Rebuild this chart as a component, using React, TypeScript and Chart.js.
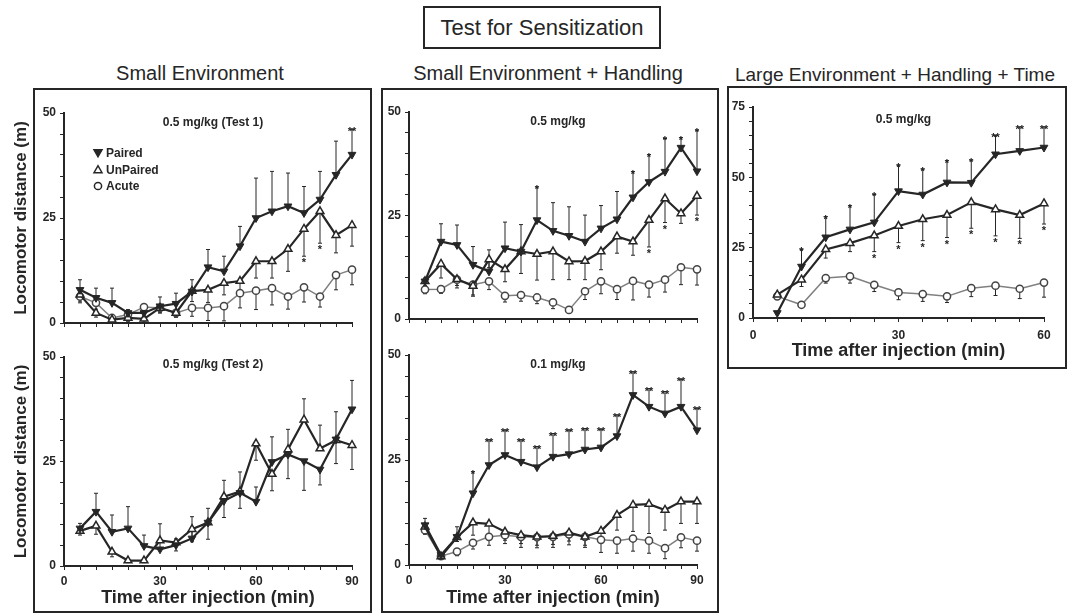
import React, { useEffect, useRef } from 'react';
import { Chart, registerables } from 'chart.js';

Chart.register(...registerables);

const INK = '#262626';
const ACUTE_LINE = '#808080';
const FONT = '"Liberation Sans", Arial, Helvetica, sans-serif';

// ---------- data ----------
const TIMES_90 = [5, 10, 15, 20, 25, 30, 35, 40, 45, 50, 55, 60, 65, 70, 75, 80, 85, 90];
const TIMES_60 = [5, 10, 15, 20, 25, 30, 35, 40, 45, 50, 55, 60];

const LEGEND_LABELS = ['Paired', 'UnPaired', 'Acute'];
const GROUP_TITLES = ['Small Environment', 'Small Environment + Handling', 'Large Environment + Handling + Time'];
const MAIN_TITLE = 'Test for Sensitization';
const X_TITLE = 'Time after injection (min)';
const Y_TITLE = 'Locomotor distance (m)';

// Small Environment, 0.5 mg/kg (Test 1)
const P1_PAIRED = [7.9, 6.0, 4.8, 2.4, 2.4, 4.0, 4.6, 7.5, 13.3, 12.3, 18.3, 25.0, 26.6, 27.8, 26.2, 29.4, 35.3, 40.1];
const P1_PAIRED_ERR = [2.4, 2.3, 3.5, 0.8, 0.8, 2.2, 2.5, 2.8, 4.2, 3.6, 4.7, 9.5, 9.5, 7.9, 6.3, 6.7, 8.0, 6.0];
const P1_PAIRED_SIG = ['', '', '', '', '', '', '', '', '', '', '', '', '', '', '', '', '', '**'];
const P1_UNPAIRED = [6.7, 2.4, 0.8, 1.2, 1.0, 3.6, 2.4, 7.6, 7.9, 9.5, 10.0, 14.7, 14.7, 17.6, 22.4, 26.6, 20.9, 23.3];
const P1_UNPAIRED_ERR = [-1.5, -1.0, -0.6, -0.8, -0.8, -1.2, -1.0, -2.5, -3.0, -2.8, -2.8, -4.0, -4.0, -5.3, -6.5, -7.6, -4.2, -5.0];
const P1_UNPAIRED_SIG = ['', '', '', '', '', '', '', '', '', '', '', '', '', '', '*', '*', '', ''];
const P1_ACUTE = [6.3, 4.8, 1.2, 2.0, 3.8, 3.6, 2.4, 3.6, 3.6, 4.0, 7.1, 7.7, 8.3, 6.3, 8.5, 6.3, 11.4, 12.7];
const P1_ACUTE_ERR = [-1.5, -1.5, -0.5, -0.8, -1.0, -1.2, -1.0, -2.0, -3.0, -3.5, -3.5, -4.5, -4.0, -3.0, -3.5, -2.5, -3.5, -3.6];

// Small Environment, 0.5 mg/kg (Test 2)
const P2_PAIRED = [9.0, 13.0, 8.2, 9.0, 4.8, 4.0, 5.0, 6.6, 10.4, 15.6, 17.5, 15.4, 24.9, 26.7, 25.1, 23.1, 30.3, 37.5];
const P2_PAIRED_ERR = [1.2, 4.4, 4.0, 5.2, 2.6, 2.0, 1.5, 5.2, 3.4, 4.9, 5.0, 3.5, 6.0, 6.0, -7.0, -3.7, 6.6, 6.9];
const P2_UNPAIRED = [8.4, 9.6, 3.4, 1.3, 1.3, 6.1, 5.6, 8.8, 10.4, 16.6, 17.8, 29.3, 22.0, 27.9, 35.0, 28.1, 30.1, 28.9];
const P2_UNPAIRED_ERR = [-1.0, -2.0, -1.2, -0.5, -0.5, 4.0, -2.0, -3.0, -4.0, -5.0, -4.0, -4.0, -4.0, -7.0, 5.0, 5.6, -5.6, -5.8];

// Small Environment + Handling, 0.5 mg/kg
const P3_PAIRED = [9.1, 18.7, 17.9, 13.1, 11.5, 17.1, 16.3, 23.9, 21.3, 20.1, 18.7, 21.9, 24.1, 29.4, 33.1, 35.6, 41.4, 35.7];
const P3_PAIRED_ERR = [0.8, 4.3, 4.8, 4.4, 5.2, 6.3, 6.5, 8.0, 6.8, 7.0, 6.4, 5.5, 6.7, 6.2, 6.6, 8.0, 2.4, 9.9];
const P3_PAIRED_SIG = ['', '', '', '', '', '', '', '*', '', '', '', '', '', '*', '*', '*', '*', '*'];
const P3_UNPAIRED = [9.1, 13.3, 9.6, 8.0, 14.4, 12.0, 16.3, 15.7, 16.3, 13.9, 14.0, 16.3, 19.9, 18.7, 23.9, 29.1, 25.5, 29.7];
const P3_UNPAIRED_ERR = [-1.0, -3.4, -1.5, -2.5, -2.0, -3.0, -5.3, -6.3, -6.8, -4.4, -4.5, -4.4, -4.0, -3.3, -6.5, -5.8, -2.4, -4.6];
const P3_UNPAIRED_SIG = ['', '', '', '', '', '', '', '', '', '', '', '', '', '', '*', '*', '', '*'];
const P3_ACUTE = [7.1, 7.2, 9.5, 8.3, 9.1, 5.6, 5.8, 5.2, 4.0, 2.2, 6.7, 9.1, 7.2, 9.2, 8.3, 9.5, 12.5, 12.0];
const P3_ACUTE_ERR = [-1.0, -1.0, -2.0, -2.5, -2.0, -1.5, -1.5, -1.5, -1.5, -0.8, -2.0, -3.0, -2.5, -4.6, -3.0, -3.0, -4.2, -3.8];

// Small Environment + Handling, 0.1 mg/kg
const P4_PAIRED = [9.5, 2.4, 6.7, 17.1, 23.8, 26.2, 24.6, 23.3, 25.8, 26.4, 27.5, 28.0, 30.7, 40.5, 37.7, 36.1, 37.7, 32.1];
const P4_PAIRED_ERR = [1.6, 0.5, 2.4, 5.1, 6.0, 5.9, 5.2, 4.9, 5.5, 5.7, 5.0, 4.3, 5.0, 5.5, 4.3, 5.2, 6.5, 5.2];
const P4_PAIRED_SIG = ['', '', '', '*', '**', '**', '**', '**', '**', '**', '**', '**', '**', '**', '**', '**', '**', '**'];
const P4_UNPAIRED = [9.1, 2.0, 6.6, 10.1, 9.8, 7.9, 7.1, 6.7, 6.9, 7.7, 6.7, 8.1, 11.9, 14.3, 14.5, 13.1, 15.1, 15.1];
const P4_UNPAIRED_ERR = [-1.5, -0.5, -1.0, -3.0, -3.0, -2.0, -2.0, -2.0, -2.0, -2.0, -2.0, -2.5, -3.6, -6.3, -7.0, -4.8, -5.2, -5.2];
const P4_ACUTE = [8.3, 2.1, 3.2, 5.3, 6.7, 7.1, 6.7, 6.6, 6.7, 7.3, 6.7, 6.0, 5.8, 6.3, 5.8, 4.0, 6.6, 5.8];
const P4_ACUTE_ERR = [-1.0, -0.5, -1.0, -1.5, -2.0, -2.0, -2.5, -2.5, -2.5, -2.5, -2.5, -3.0, -3.0, -3.0, -3.0, -2.5, -2.5, -2.5];

// Large Environment + Handling + Time, 0.5 mg/kg
const P5_PAIRED = [1.8, 18.3, 28.7, 31.5, 34.0, 45.1, 43.9, 48.2, 48.1, 58.2, 59.4, 60.6];
const P5_PAIRED_ERR = [0.5, 6.1, 7.3, 8.4, 9.9, 9.2, 9.0, 7.7, 8.0, 6.7, 8.5, 7.3];
const P5_PAIRED_SIG = ['', '*', '*', '*', '*', '*', '*', '*', '*', '**', '**', '**'];
const P5_UNPAIRED = [8.3, 13.6, 24.4, 26.6, 29.3, 32.7, 35.1, 36.6, 41.1, 38.6, 36.6, 40.7];
const P5_UNPAIRED_ERR = [-1.0, -2.4, -3.1, -3.0, -5.7, -5.9, -7.6, -8.0, -9.2, -9.4, -8.3, -7.3];
const P5_UNPAIRED_SIG = ['', '', '', '', '*', '*', '*', '*', '*', '*', '*', '*'];
const P5_ACUTE = [7.7, 4.7, 14.2, 14.8, 11.8, 9.1, 8.5, 7.7, 10.6, 11.5, 10.4, 12.6];
const P5_ACUTE_ERR = [-1.0, -0.5, -1.8, -2.4, -2.4, -2.6, -2.6, -2.2, -3.0, -3.5, -3.5, -5.2];

// ---------- types ----------
type Kind = 'paired' | 'unpaired' | 'acute';
type Series = { kind: Kind; values: number[]; err: number[]; sig?: string[] };
type Box = { l: number; t: number; r: number; b: number };
type PanelSpec = {
  times: number[];
  xMax: number;
  yMax: number;
  subtitle: string;
  subDy: number;
  series: Series[];
  canvas: Box;
  area: Box;
  showX: boolean;
  showYTitle: boolean;
  legend: boolean;
  xTickPad: number;
  xTitlePad: number;
};

const PANELS: PanelSpec[] = [
  {
    times: TIMES_90, xMax: 90, yMax: 50, subtitle: '0.5 mg/kg (Test 1)', subDy: 10,
    series: [
      { kind: 'paired', values: P1_PAIRED, err: P1_PAIRED_ERR, sig: P1_PAIRED_SIG },
      { kind: 'unpaired', values: P1_UNPAIRED, err: P1_UNPAIRED_ERR, sig: P1_UNPAIRED_SIG },
      { kind: 'acute', values: P1_ACUTE, err: P1_ACUTE_ERR },
    ],
    canvas: { l: 0, t: 95, r: 370, b: 335 }, area: { l: 64, t: 113, r: 352, b: 323 },
    showX: false, showYTitle: true, legend: true, xTickPad: 4, xTitlePad: 4,
  },
  {
    times: TIMES_90, xMax: 90, yMax: 50, subtitle: '0.5 mg/kg (Test 2)', subDy: 8,
    series: [
      { kind: 'paired', values: P2_PAIRED, err: P2_PAIRED_ERR },
      { kind: 'unpaired', values: P2_UNPAIRED, err: P2_UNPAIRED_ERR },
    ],
    canvas: { l: 0, t: 340, r: 370, b: 612 }, area: { l: 64, t: 357, r: 352, b: 566 },
    showX: true, showYTitle: true, legend: false, xTickPad: 4, xTitlePad: 3,
  },
  {
    times: TIMES_90, xMax: 90, yMax: 50, subtitle: '0.5 mg/kg', subDy: 10,
    series: [
      { kind: 'paired', values: P3_PAIRED, err: P3_PAIRED_ERR, sig: P3_PAIRED_SIG },
      { kind: 'unpaired', values: P3_UNPAIRED, err: P3_UNPAIRED_ERR, sig: P3_UNPAIRED_SIG },
      { kind: 'acute', values: P3_ACUTE, err: P3_ACUTE_ERR },
    ],
    canvas: { l: 383, t: 95, r: 716, b: 335 }, area: { l: 409, t: 112, r: 697, b: 319 },
    showX: false, showYTitle: false, legend: false, xTickPad: 4, xTitlePad: 4,
  },
  {
    times: TIMES_90, xMax: 90, yMax: 50, subtitle: '0.1 mg/kg', subDy: 10,
    series: [
      { kind: 'paired', values: P4_PAIRED, err: P4_PAIRED_ERR, sig: P4_PAIRED_SIG },
      { kind: 'unpaired', values: P4_UNPAIRED, err: P4_UNPAIRED_ERR },
      { kind: 'acute', values: P4_ACUTE, err: P4_ACUTE_ERR },
    ],
    canvas: { l: 383, t: 340, r: 716, b: 612 }, area: { l: 409, t: 355, r: 697, b: 565 },
    showX: true, showYTitle: false, legend: false, xTickPad: 4, xTitlePad: 3,
  },
  {
    times: TIMES_60, xMax: 60, yMax: 75, subtitle: '0.5 mg/kg', subDy: 13,
    series: [
      { kind: 'paired', values: P5_PAIRED, err: P5_PAIRED_ERR, sig: P5_PAIRED_SIG },
      { kind: 'unpaired', values: P5_UNPAIRED, err: P5_UNPAIRED_ERR, sig: P5_UNPAIRED_SIG },
      { kind: 'acute', values: P5_ACUTE, err: P5_ACUTE_ERR },
    ],
    canvas: { l: 729, t: 92, r: 1063, b: 364 }, area: { l: 753, t: 107, r: 1044, b: 318 },
    showX: true, showYTitle: false, legend: false, xTickPad: 6, xTitlePad: 2,
  },
];

// ---------- drawing helpers ----------
function drawMarker(ctx: CanvasRenderingContext2D, kind: Kind, x: number, y: number) {
  ctx.save();
  ctx.lineWidth = 1.5;
  ctx.strokeStyle = INK;
  ctx.beginPath();
  if (kind === 'paired') {
    ctx.moveTo(x - 4, y - 3.2);
    ctx.lineTo(x + 4, y - 3.2);
    ctx.lineTo(x, y + 3.8);
    ctx.closePath();
    ctx.fillStyle = INK;
    ctx.fill();
    ctx.stroke();
  } else if (kind === 'unpaired') {
    ctx.moveTo(x - 4, y + 3.2);
    ctx.lineTo(x + 4, y + 3.2);
    ctx.lineTo(x, y - 3.8);
    ctx.closePath();
    ctx.fillStyle = '#fff';
    ctx.fill();
    ctx.stroke();
  } else {
    ctx.arc(x, y, 3.6, 0, Math.PI * 2);
    ctx.fillStyle = '#fff';
    ctx.fill();
    ctx.stroke();
  }
  ctx.restore();
}

function makeDataset(times: number[], s: Series) {
  const base: any = {
    data: times.map((t, i) => ({ x: t, y: s.values[i] })),
    err: s.err,
    sig: s.sig || [],
    tension: 0,
    clip: false,
  };
  if (s.kind === 'paired') {
    return {
      ...base, label: 'Paired', borderColor: INK, borderWidth: 2.2,
      pointStyle: 'triangle', rotation: 180, pointRadius: 4.5,
      pointBackgroundColor: INK, pointBorderColor: INK, pointBorderWidth: 1,
    };
  }
  if (s.kind === 'unpaired') {
    return {
      ...base, label: 'UnPaired', borderColor: INK, borderWidth: 2.2,
      pointStyle: 'triangle', pointRadius: 4.5,
      pointBackgroundColor: '#fff', pointBorderColor: INK, pointBorderWidth: 1.5,
    };
  }
  return {
    ...base, label: 'Acute', borderColor: ACUTE_LINE, borderWidth: 1.5,
    pointStyle: 'circle', pointRadius: 3.6,
    pointBackgroundColor: '#fff', pointBorderColor: '#444', pointBorderWidth: 1.5,
  };
}

const errorBarPlugin = {
  id: 'errorBars',
  beforeDatasetsDraw(chart: any) {
    const { ctx } = chart;
    const xs = chart.scales.x;
    const ys = chart.scales.y;
    chart.data.datasets.forEach((ds: any) => {
      if (!ds.err) return;
      ctx.save();
      ctx.strokeStyle = INK;
      ctx.fillStyle = INK;
      ctx.lineWidth = 1;
      ctx.font = `bold 11px ${FONT}`;
      ctx.textAlign = 'center';
      ctx.textBaseline = 'alphabetic';
      ds.data.forEach((pt: any, j: number) => {
        const e = ds.err[j];
        if (!e) return;
        const x = xs.getPixelForValue(pt.x);
        const y0 = ys.getPixelForValue(pt.y);
        const y1 = ys.getPixelForValue(pt.y + e);
        ctx.beginPath();
        ctx.moveTo(x, y0);
        ctx.lineTo(x, y1);
        ctx.moveTo(x - 2, y1);
        ctx.lineTo(x + 2, y1);
        ctx.stroke();
        const s = ds.sig && ds.sig[j];
        if (s) {
          ctx.fillText(s, x, e > 0 ? y1 + 6 : y1 + 10);
        }
      });
      ctx.restore();
    });
  },
};

function Panel({ spec }: { spec: PanelSpec }) {
  const ref = useRef<HTMLCanvasElement>(null);
  const c = spec.canvas;
  const a = spec.area;
  const W = c.r - c.l;
  const H = c.b - c.t;

  useEffect(() => {
    const textPlugin = {
      id: 'panelText',
      afterDraw(chart: any) {
        const { ctx, chartArea } = chart;
        ctx.save();
        ctx.fillStyle = INK;
        ctx.font = `bold 12px ${FONT}`;
        ctx.textAlign = 'center';
        ctx.textBaseline = 'middle';
        ctx.fillText(spec.subtitle, (chartArea.left + chartArea.right) / 2 + 5, chartArea.top + spec.subDy);
        if (spec.legend) {
          const kinds: Kind[] = ['paired', 'unpaired', 'acute'];
          LEGEND_LABELS.forEach((lab, i) => {
            const x = chartArea.left + 34;
            const y = chartArea.top + 40 + i * 16.5;
            drawMarker(ctx, kinds[i], x, y);
            ctx.fillStyle = INK;
            ctx.textAlign = 'left';
            ctx.font = `bold 12px ${FONT}`;
            ctx.fillText(lab, x + 8, y + 1);
          });
        }
        ctx.restore();
      },
    };

    const tickFont = { family: FONT, size: 12, weight: 'bold' as const };
    const chart = new Chart(ref.current!, {
      type: 'line',
      data: { datasets: spec.series.map((s) => makeDataset(spec.times, s)) as any },
      options: {
        responsive: false,
        animation: false,
        events: [],
        layout: { padding: { left: 0, top: a.t - c.t, right: c.r - a.r, bottom: 0 } },
        plugins: { legend: { display: false }, tooltip: { enabled: false }, title: { display: false } },
        scales: {
          x: {
            type: 'linear',
            min: 0,
            max: spec.xMax,
            afterFit: (s: any) => { s.height = c.b - a.b; },
            grid: { display: true, drawOnChartArea: false, drawTicks: true, tickLength: 4, color: INK, lineWidth: 1 },
            border: { display: true, color: INK, width: 2 },
            ticks: {
              stepSize: 5,
              autoSkip: false,
              maxRotation: 0,
              padding: spec.xTickPad,
              color: INK,
              font: tickFont,
              callback: (v: any) => (spec.showX && Number(v) % 30 === 0 ? String(v) : ''),
            },
            title: {
              display: spec.showX,
              text: X_TITLE,
              color: INK,
              font: { family: FONT, size: 18, weight: 'bold' },
              padding: { top: 0, bottom: spec.xTitlePad },
            },
          },
          y: {
            type: 'linear',
            min: 0,
            max: spec.yMax,
            afterFit: (s: any) => { s.width = a.l - c.l; },
            grid: { display: true, drawOnChartArea: false, drawTicks: true, tickLength: 4, color: INK, lineWidth: 1 },
            border: { display: true, color: INK, width: 2 },
            ticks: {
              stepSize: 5,
              autoSkip: false,
              padding: 4,
              color: INK,
              font: tickFont,
              callback: (v: any) => (Number(v) % 25 === 0 ? String(v) : ''),
            },
            title: {
              display: spec.showYTitle,
              text: Y_TITLE,
              color: INK,
              font: { family: FONT, size: 17, weight: 'bold' },
              padding: { top: 11, bottom: 0 },
            },
          },
        },
      } as any,
      plugins: [errorBarPlugin, textPlugin],
    });
    return () => chart.destroy();
  }, []);

  return (
    <canvas
      ref={ref}
      width={W}
      height={H}
      style={{ position: 'absolute', left: c.l, top: c.t, width: W, height: H }}
    />
  );
}

const frame = (l: number, t: number, r: number, b: number): React.CSSProperties => ({
  position: 'absolute',
  left: l,
  top: t,
  width: r - l,
  height: b - t,
  border: `2px solid ${INK}`,
  boxSizing: 'border-box',
});

const groupTitle = (cx: number, cy: number): React.CSSProperties => ({
  position: 'absolute',
  left: cx - 200,
  width: 400,
  top: cy - 12,
  height: 24,
  lineHeight: '24px',
  textAlign: 'center',
  fontFamily: FONT,
  fontSize: 20,
  color: INK,
  whiteSpace: 'nowrap',
});

export default function App() {
  return (
    <div style={{ position: 'absolute', left: 0, top: 0, width: 1073, height: 615, background: '#fff', overflow: 'hidden' }}>
      <div style={{ ...frame(423, 6, 661, 49), display: 'flex', alignItems: 'center', justifyContent: 'center', fontFamily: FONT, fontSize: 22, color: INK }}>
        {MAIN_TITLE}
      </div>
      <div style={groupTitle(200, 73)}>{GROUP_TITLES[0]}</div>
      <div style={groupTitle(548, 73)}>{GROUP_TITLES[1]}</div>
      <div style={{ ...groupTitle(895, 75), fontSize: 19 }}>{GROUP_TITLES[2]}</div>
      <div style={frame(33, 88, 372, 613)} />
      <div style={frame(381, 88, 719, 613)} />
      <div style={frame(727, 86, 1067, 369)} />
      {PANELS.map((p, i) => (
        <Panel key={i} spec={p} />
      ))}
    </div>
  );
}
